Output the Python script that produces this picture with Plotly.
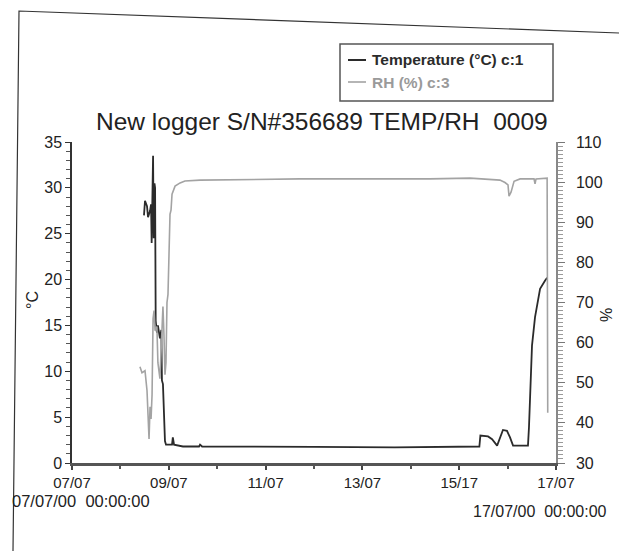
import pandas as pd
import plotly.graph_objects as go

# ---- data ----
start = pd.Timestamp("2000-07-07 00:00")

temp_hours = [35.7, 36.2, 37.2, 37.7, 38.7, 39.2, 39.5, 39.9, 40.2, 40.5, 40.9, 41.2,
              41.5, 42.1, 42.6, 43.6, 44.3, 44.6, 45.1, 45.6, 46.1, 46.6, 49.6, 50.0,
              50.6, 55.0, 63.0, 63.5, 64.5, 120.0, 160.0, 202.0, 202.5, 206.3, 208.3,
              210.8, 212.2, 213.7, 215.7, 217.2, 218.7, 226.1, 226.6, 228.1, 229.6,
              230.6, 232.1, 234.6, 235.6]
temp_values = [27.0, 28.6, 28.0, 26.8, 27.5, 28.2, 24.0, 30.5, 33.5, 24.5, 30.5, 30.0,
               15.5, 14.2, 15.0, 13.6, 14.5, 9.0, 8.6, 4.0, 2.4, 2.0, 2.0, 2.8,
               2.0, 1.8, 1.8, 2.0, 1.8, 1.75, 1.7, 1.8, 3.0, 2.9, 2.6,
               1.9, 2.8, 3.6, 3.5, 2.8, 1.9, 1.9, 3.9, 12.8, 15.9,
               17.2, 19.0, 19.9, 20.2]

rh_hours = [33.7, 34.7, 36.2, 37.2, 37.7, 38.2, 38.7, 39.2, 39.7, 40.2, 40.7, 41.2,
            42.1, 42.6, 43.6, 44.1, 44.6, 45.1, 45.6, 46.1, 46.6, 47.1, 47.6, 48.1,
            48.6, 49.1, 49.6, 51.1, 53.6, 56.0, 63.5, 113.0, 177.5, 197.4, 212.2,
            214.7, 216.2, 216.7, 217.7, 219.2, 222.2, 229.1, 229.6, 230.1, 235.1,
            235.6, 235.9]
rh_values = [54, 52.5, 53, 48, 42, 36, 44, 41, 47, 66, 68, 63,
             64, 55, 51, 57, 66, 69, 62, 52, 55, 70, 72, 82,
             92, 93, 97, 99, 99.8, 100.3, 100.5, 100.8, 100.8, 101, 100.5,
             99.9, 99.3, 96.5, 97.5, 100.2, 100.8, 100.8, 99.6, 100.8, 101,
             101, 42.5]

tick_dates = ["2000-07-07", "2000-07-09", "2000-07-11", "2000-07-13", "2000-07-15", "2000-07-17"]
tick_labels = ["07/07", "09/07", "11/07", "13/07", "15/17", "17/07"]
minor_dates = [f"2000-07-{d:02d}" for d in range(7, 18)]

title_text = "New logger S/N#356689 TEMP/RH  0009"
legend_names = ["Temperature (°C) c:1", "RH (%) c:3"]

temp_x = [start + pd.Timedelta(hours=h) for h in temp_hours]
rh_x = [start + pd.Timedelta(hours=h) for h in rh_hours]

TEMP_COL = "#2b2b2b"
RH_COL = "#a3a3a3"
FONT = "Liberation Sans, Arial, sans-serif"

W, H = 619, 551
L, R, T, B = 72, 63, 142, 88
pw, ph = W - L - R, H - T - B


def px(x):
    return (x - L) / pw


def py(y):
    return (H - B - y) / ph


fig = go.Figure()
fig.add_trace(go.Scatter(x=rh_x, y=rh_values, yaxis="y2", mode="lines",
                         line=dict(color=RH_COL, width=1.6), name=legend_names[1],
                         showlegend=False))
fig.add_trace(go.Scatter(x=temp_x, y=temp_values, mode="lines",
                         line=dict(color=TEMP_COL, width=1.8), name=legend_names[0],
                         showlegend=False))

yfont = dict(family=FONT, size=16, color="#222")
xfont = dict(family=FONT, size=15, color="#222")

fig.update_layout(
    width=W, height=H,
    margin=dict(l=L, r=R, t=T, b=B, pad=0),
    paper_bgcolor="white", plot_bgcolor="white",
    font=dict(family=FONT, color="#222"),
    xaxis=dict(type="date", range=["2000-07-07", "2000-07-17"],
               tickmode="array", tickvals=tick_dates, ticktext=tick_labels,
               tickfont=xfont, ticks="outside", ticklen=4, tickwidth=1.5,
               tickcolor="#444", showgrid=False, zeroline=False,
               showline=True, linecolor="#555", linewidth=2.5,
               minor=dict(tickmode="array", tickvals=minor_dates, ticks="outside",
                          ticklen=3, tickcolor="#555", showgrid=False)),
    yaxis=dict(range=[0, 35], tickmode="linear", tick0=0, dtick=5,
               tickfont=yfont, ticks="outside", ticklen=5, tickwidth=1.2,
               tickcolor="#333", showgrid=False, zeroline=False,
               showline=True, linecolor="#333", linewidth=1.5,
               minor=dict(dtick=1, ticks="outside", ticklen=4, tickcolor="#555",
                          showgrid=False)),
    yaxis2=dict(range=[30, 110], overlaying="y", side="right", tickmode="linear",
                tick0=30, dtick=10, tickfont=yfont, ticks="outside", ticklen=7,
                tickwidth=1.2, tickcolor="#777", showgrid=False, zeroline=False,
                showline=True, linecolor="#888", linewidth=1.5, ticklabelstandoff=8,
                minor=dict(dtick=1, ticks="outside", ticklen=5, tickcolor="#999",
                           showgrid=False)),
)

annotations = [
    dict(text=title_text, x=px(322), y=py(121), xref="paper", yref="paper",
         showarrow=False, xanchor="center", yanchor="middle",
         font=dict(family=FONT, size=24.5, color="#222")),
    dict(text="°C", x=px(32), y=py(300), xref="paper", yref="paper", textangle=-90,
         showarrow=False, xanchor="center", yanchor="middle",
         font=dict(family=FONT, size=16, color="#222")),
    dict(text="%", x=px(606), y=py(315), xref="paper", yref="paper", textangle=-90,
         showarrow=False, xanchor="center", yanchor="middle",
         font=dict(family=FONT, size=16, color="#222")),
    dict(text="07/07/00  00:00:00", x=px(10), y=py(501), xref="paper", yref="paper",
         showarrow=False, xanchor="left", yanchor="middle",
         font=dict(family=FONT, size=16.5, color="#222")),
    dict(text="17/07/00  00:00:00", x=px(609), y=py(512), xref="paper", yref="paper",
         showarrow=False, xanchor="right", yanchor="middle",
         font=dict(family=FONT, size=16, color="#222")),
    dict(text="<b>" + legend_names[0] + "</b>", x=px(370), y=py(60), xref="paper",
         yref="paper", showarrow=False, xanchor="left", yanchor="middle",
         font=dict(family=FONT, size=15.5, color=TEMP_COL)),
    dict(text="<b>" + legend_names[1] + "</b>", x=px(370), y=py(82), xref="paper",
         yref="paper", showarrow=False, xanchor="left", yanchor="middle",
         font=dict(family=FONT, size=15.5, color="#9a9a9a")),
]

shapes = [
    # legend box and samples
    dict(type="rect", xref="paper", yref="paper", x0=px(340), x1=px(553),
         y0=py(44), y1=py(101), line=dict(color="#555", width=1.5), fillcolor="white"),
    dict(type="line", xref="paper", yref="paper", x0=px(348), x1=px(366),
         y0=py(60), y1=py(60), line=dict(color=TEMP_COL, width=2)),
    dict(type="line", xref="paper", yref="paper", x0=px(348), x1=px(366),
         y0=py(82), y1=py(82), line=dict(color=RH_COL, width=1.6)),
    # page border of the scanned sheet
    dict(type="path", xref="paper", yref="paper",
         path=f"M {px(619)},{py(33)} L {px(19)},{py(11)} L {px(13)},{py(551)}",
         line=dict(color="#333", width=1.2)),
]

fig.update_layout(annotations=annotations, shapes=shapes)

fig.write_html("out.html")
